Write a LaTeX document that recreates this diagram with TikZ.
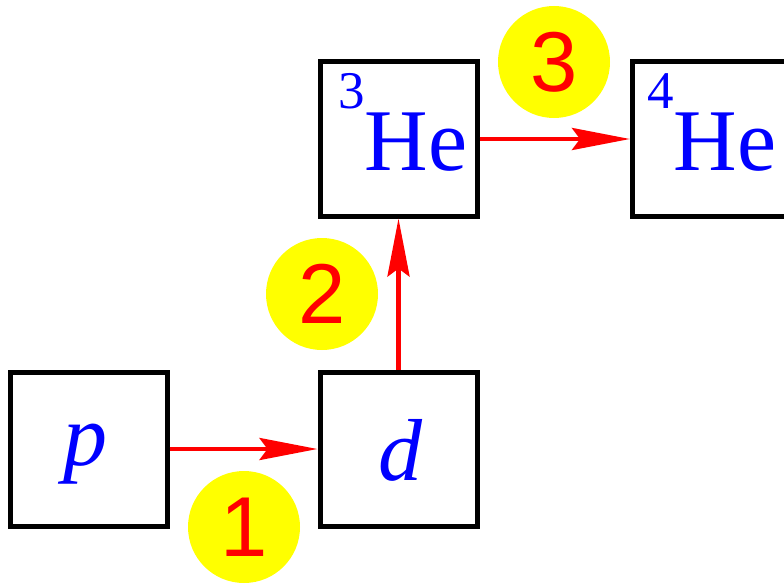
\documentclass[tikz,border=0pt]{standalone}
\usepackage{fontspec}
\setmainfont{Liberation Serif}
\newfontfamily\numfont{Liberation Sans}
\usetikzlibrary{arrows.meta}
\definecolor{pblue}{RGB}{0,0,255}
\definecolor{pred}{RGB}{255,0,0}
\definecolor{pyellow}{RGB}{255,255,0}
\tikzset{
  boxnode/.style={draw=black, line width=5pt, minimum width=157pt, minimum height=154pt, inner sep=0pt},
  labeltxt/.style={text=pblue, inner sep=0pt, font=\fontsize{88}{88}\selectfont},
  stepcircle/.style={circle, fill=pyellow, minimum size=112pt, inner sep=0pt, text=pred, font=\numfont\fontsize{85}{85}\selectfont},
  reaction/.style={draw=pred, line width=4.5pt, -{Stealth[length=58pt, width=22pt, inset=8pt]}}
}
\newcommand{\presup}[1]{\raisebox{62pt}{\fontsize{53}{53}\selectfont #1}}
\begin{document}
\begin{tikzpicture}[x=1pt, y=-1pt]
\useasboundingbox (0,0) rectangle (784,586);
% circles
\node[stepcircle] (c1) at (244,527) {1};
\node[stepcircle] (c2) at (322,294) {2};
\node[stepcircle] (c3) at (554,62) {3};
% boxes
\node[boxnode] (p) at (88.5,449) {};
\node[boxnode] (d) at (398.5,449) {};
\node[boxnode] (he3) at (398.5,139) {};
\node[boxnode] (he4) at (711,139) {};
% labels
\node[labeltxt, anchor=base] (ptxt) at (85,465) {\itshape p};
\node[labeltxt, anchor=base] (dtxt) at (400,480) {\itshape d};
\node[labeltxt, anchor=base west] (he3txt) at (338,170) {\presup{3}He};
\node[labeltxt, anchor=base west] (he4txt) at (647,170) {\presup{4}He};
% arrows
\draw[reaction] (p.east) -- (d.west);
\draw[reaction] (d.north) -- (he3.south);
\draw[reaction] (he3.east) -- (he4.west);
\end{tikzpicture}
\end{document}
